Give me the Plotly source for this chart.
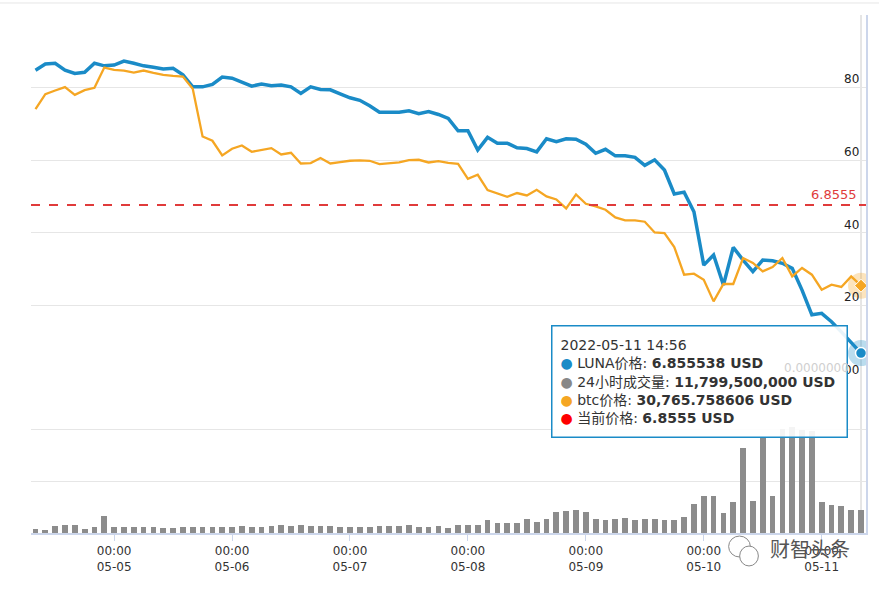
import pandas as pd
import plotly.graph_objects as go

# Datos (cada 2 horas, 2022-05-04 08:00 -> 2022-05-11 08:00)
times = pd.date_range("2022-05-04 08:00", periods=85, freq="2h")

luna_price = [
    84.8, 86.5, 86.7, 84.8, 83.9, 84.2, 86.7, 86.0, 86.2, 87.3,
    86.7, 86.0, 85.6, 85.1, 85.3, 83.5, 80.2, 80.2, 80.9, 82.9,
    82.6, 81.5, 80.4, 81.0, 80.5, 80.7, 80.2, 78.4, 80.2, 79.5,
    79.4, 78.3, 77.2, 76.5, 75.0, 73.2, 73.2, 73.2, 73.6, 72.8,
    73.4, 72.6, 71.5, 68.1, 68.1, 62.8, 66.3, 64.7, 64.7, 63.4,
    63.2, 62.3, 65.9, 65.1, 65.9, 65.8, 64.4, 61.9, 63.0, 61.2,
    61.2, 60.8, 58.6, 60.1, 57.3, 50.7, 51.2, 45.8, 31.1, 33.9,
    25.6, 36.0, 32.5, 29.3, 32.5, 32.3, 31.6, 30.2, 24.2, 17.4,
    17.8, 15.5, 12.7, 9.6, 6.855538,
]

btc_price = [
    38159, 38787, 38937, 39080, 38757, 38954, 39050, 39900, 39803, 39774,
    39691, 39774, 39678, 39594, 39552, 39523, 39008, 37013, 36833, 36218,
    36498, 36636, 36373, 36456, 36527, 36260, 36331, 35883, 35900, 36109,
    35883, 35942, 35996, 36009, 35996, 35858, 35900, 35925, 36025, 36038,
    35925, 35983, 35912, 35870, 35243, 35410, 34770, 34645, 34490, 34645,
    34544, 34783, 34502, 34377, 34000, 34586, 34197, 34084, 33946, 33624,
    33498, 33498, 33444, 32996, 32971, 32385, 31226, 31268, 31017, 30109,
    30837, 30837, 31925, 31716, 31364, 31548, 31925, 31155, 31507, 31226,
    30598, 30808, 30711, 31155, 30765.758606,
]

# 24小时成交量 (十亿美元)
volume_bn = [
    2.2, 1.5, 3.5, 3.9, 3.9, 2.2, 2.9, 8.7, 3.0, 3.0,
    3.0, 3.0, 3.0, 2.3, 2.3, 3.0, 3.0, 3.0, 3.0, 3.0,
    3.1, 3.3, 3.0, 3.0, 3.3, 3.9, 3.3, 3.9, 3.3, 3.3,
    3.3, 3.0, 3.0, 3.0, 3.0, 3.3, 3.3, 3.3, 3.9, 3.0,
    3.0, 3.3, 2.5, 3.9, 3.9, 3.9, 6.4, 5.2, 5.2, 5.2,
    6.9, 5.7, 6.9, 10.6, 11.2, 11.7, 10.6, 6.9, 6.4, 6.9,
    7.5, 6.4, 6.9, 6.9, 6.4, 6.4, 8.0, 14.8, 18.8, 18.8,
    9.9, 15.4, 42.9, 15.9, 47.8, 18.8, 52.3, 53.5, 51.8, 51.3,
    15.4, 14.2, 13.4, 11.7, 11.7995,
]

current_price = 6.8555
hover_time = "2022-05-11 14:56"
luna_ticks = [0, 20, 40, 60, 80, 100]
luna_ticktext = ["00", "20", "40", "60", "80", ""]

BLUE = "#1a8bc7"
ORANGE = "#f5a623"
RED = "#e03b3b"
GRAY_BAR = "#8c8c8c"
GRID = "#e6e6e6"
AXIS = "#ccd6eb"
FONT = "DejaVu Sans, Noto Sans CJK SC, sans-serif"

fig = go.Figure()

# Volumen
fig.add_trace(go.Bar(
    x=times, y=volume_bn, yaxis="y", marker_color=GRAY_BAR,
    marker_line_width=0, width=70 * 60 * 1000, name="24小时成交量"
))

# BTC
fig.add_trace(go.Scatter(
    x=times, y=btc_price, yaxis="y3", mode="lines",
    line=dict(color=ORANGE, width=2.3), name="btc价格"
))

# LUNA
fig.add_trace(go.Scatter(
    x=times, y=luna_price, yaxis="y2", mode="lines",
    line=dict(color=BLUE, width=3.5), name="LUNA价格"
))

# Puntos resaltados (hover)
fig.add_trace(go.Scatter(
    x=[times[-1]], y=[btc_price[-1]], yaxis="y3", mode="markers",
    marker=dict(size=26, color="rgba(245,166,35,0.3)")
))
fig.add_trace(go.Scatter(
    x=[times[-1]], y=[btc_price[-1]], yaxis="y3", mode="markers",
    marker=dict(size=10, symbol="diamond", color=ORANGE, line=dict(color="white", width=1))
))
fig.add_trace(go.Scatter(
    x=[times[-1]], y=[luna_price[-1]], yaxis="y2", mode="markers",
    marker=dict(size=26, color="rgba(26,139,199,0.3)")
))
fig.add_trace(go.Scatter(
    x=[times[-1]], y=[luna_price[-1]], yaxis="y2", mode="markers",
    marker=dict(size=11, color=BLUE, line=dict(color="white", width=1.5))
))

split = 155 / 518

fig.update_layout(
    width=879, height=591,
    margin=dict(l=31, r=13, t=15, b=58),
    paper_bgcolor="white", plot_bgcolor="white",
    showlegend=False,
    bargap=0,
    font=dict(family=FONT, size=12, color="#333"),
    xaxis=dict(
        type="date",
        range=["2022-05-04 07:05", "2022-05-11 09:01"],
        tick0="2022-05-05 00:00", dtick=86400000,
        tickformat="%H:%M<br>%m-%d",
        showgrid=False, showline=True, linecolor=AXIS, linewidth=1.5,
        ticks="outside", ticklen=6, tickcolor=AXIS,
        tickfont=dict(size=12, color="#333"),
    ),
    yaxis=dict(
        domain=[0, split], range=[0, 78], dtick=26,
        showticklabels=False, gridcolor=GRID, zeroline=False,
        side="right", showline=True, linecolor=AXIS, linewidth=2,
    ),
    yaxis2=dict(
        domain=[split, 1], range=[0, 100], anchor="x", side="right",
        tickvals=luna_ticks, ticktext=luna_ticktext,
        ticklabelposition="inside top", ticks="", ticklabelstandoff=5,
        tickfont=dict(size=12, color="#222"),
        gridcolor=GRID, zeroline=False,
        showline=True, linecolor=AXIS, linewidth=2,
    ),
    yaxis3=dict(overlaying="y2", range=[26900, 42100], visible=False),
    yaxis4=dict(overlaying="y2", range=[0, 14.38], visible=False),
)

tooltip = (
    f"{hover_time}<br>"
    f"<span style='color:{BLUE}'>●</span> LUNA价格: <b>{luna_price[-1]} USD</b><br>"
    f"<span style='color:#888888'>●</span> 24小时成交量: <b>{volume_bn[-1] * 1e9:,.0f} USD</b><br>"
    f"<span style='color:{ORANGE}'>●</span> btc价格: <b>{btc_price[-1]:,} USD</b><br>"
    f"<span style='color:#ff0000'>●</span> 当前价格: <b>{current_price} USD</b>"
)

fig.update_layout(
    shapes=[
        dict(type="line", xref="paper", x0=0, x1=1, yref="y4",
             y0=current_price, y1=current_price,
             line=dict(color=RED, width=2, dash="dash"), layer="above"),
        dict(type="line", xref="x", x0=times[-1], x1=times[-1], yref="paper",
             y0=0, y1=1, line=dict(color="#cccccc", width=1), layer="below"),
        dict(type="line", xref="paper", x0=-0.04, x1=1.02, yref="paper",
             y0=1.0232, y1=1.0232, line=dict(color=GRID, width=1)),
        # icono marca de agua
        dict(type="circle", xref="paper", yref="paper",
             x0=0.8355, x1=0.8615, y0=-0.0463, y1=-0.0059,
             line=dict(color="#888", width=1), fillcolor="white"),
        dict(type="circle", xref="paper", yref="paper",
             x0=0.8487, x1=0.8711, y0=-0.0636, y1=-0.0252,
             line=dict(color="#888", width=1), fillcolor="white"),
    ],
    annotations=[
        dict(text=f"{current_price}", xref="paper", x=0.9916, xanchor="right",
             yref="y4", y=current_price, yanchor="bottom", yshift=1,
             showarrow=False, font=dict(size=13, color=RED)),
        dict(text=tooltip, xref="paper", x=0.6228, xanchor="left",
             yref="paper", y=0.4015, yanchor="top",
             showarrow=False, align="left", width=278, height=94,
             borderpad=8, bgcolor="rgba(255,255,255,0.9)",
             bordercolor=BLUE, borderwidth=1.5,
             font=dict(size=14, color="#333")),
        dict(text="0.0000000", xref="paper", x=0.982, xanchor="right",
             yref="y2", y=0, yanchor="bottom", yshift=1,
             showarrow=False, font=dict(size=12, color="#d0d0d0")),
        dict(text="财智头条", xref="paper", x=0.933, xanchor="center",
             yref="paper", y=-0.033, yanchor="middle",
             showarrow=False, font=dict(size=20, color="#555")),
    ],
)

fig.write_html("out.html", config={"displayModeBar": False},
               post_script="document.body.style.margin='0';")
